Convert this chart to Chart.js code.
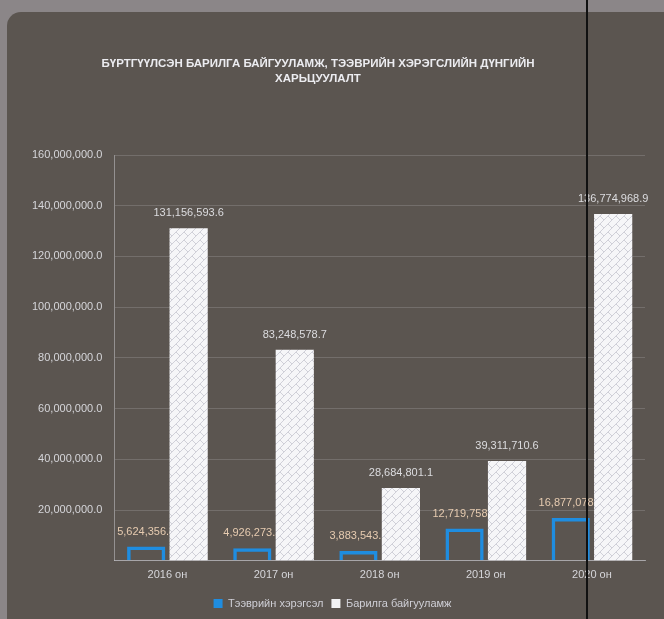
<!DOCTYPE html>
<html>
<head>
<meta charset="utf-8">
<script src="https://cdn.jsdelivr.net/npm/chart.js@4"></script>
<style>
    html, body { margin: 0; padding: 0; }
    body { width: 664px; height: 619px; background: #8b8688; position: relative; overflow: hidden; }
    .card { position: absolute; left: 7px; top: 12px; width: 700px; height: 650px; background: #5b5550; border-top-left-radius: 14px; }
    .wrap { position: absolute; left: 0; top: 0; width: 664px; height: 619px; }
    .crease { position: absolute; left: 586px; top: 0; width: 2px; height: 619px; background: #111; }
</style>
</head>
<body>
<div class="card"></div>
<div class="wrap"><canvas id="myBarChart" width="664" height="619"></canvas></div>
<div class="crease"></div>
<script>
const years = ['2016 он', '2017 он', '2018 он', '2019 он', '2020 он'];
const vehicles = [5624356.8, 4926273.5, 3883543.2, 12719758.1, 16877078.4];
const buildings = [131156593.6, 83248578.7, 28684801.1, 39311710.6, 136774968.9];
const seriesNames = ['Тээврийн хэрэгсэл', 'Барилга байгууламж'];
const titleLines = ['БҮРТГҮҮЛСЭН БАРИЛГА БАЙГУУЛАМЖ, ТЭЭВРИЙН ХЭРЭГСЛИЙН ДҮНГИЙН', 'ХАРЬЦУУЛАЛТ'];

const FONT = '"Liberation Sans", Arial, sans-serif';

const fmt = (v) => v.toLocaleString('en-US', { minimumFractionDigits: 1, maximumFractionDigits: 1 });

// white bars with a light crosshatch
const makeHatch = () => {
    const c = document.createElement('canvas');
    c.width = 8; c.height = 8;
    const g = c.getContext('2d');
    g.fillStyle = '#f6f6f8';
    g.fillRect(0, 0, 8, 8);
    g.strokeStyle = '#d0d0d8';
    g.lineWidth = 1;
    g.beginPath();
    g.moveTo(0, 8); g.lineTo(8, 0);
    g.moveTo(0, 0); g.lineTo(4, 4);
    g.stroke();
    return g.createPattern(c, 'repeat');
};

const valueLabels = {
    id: 'valueLabels',
    drawSet(chart, idx, color) {
        const ctx = chart.ctx;
        const meta = chart.getDatasetMeta(idx);
        const data = chart.data.datasets[idx].data;
        ctx.save();
        ctx.font = '11px ' + FONT;
        ctx.fillStyle = color;
        ctx.textAlign = 'center';
        ctx.textBaseline = 'middle';
        meta.data.forEach((bar, i) => {
            ctx.fillText(fmt(data[i]), bar.x, bar.y - 15);
        });
        ctx.restore();
    },
    // vehicle labels go under the white bars, like the original
    beforeDatasetsDraw(chart) {
        this.drawSet(chart, 0, '#e6cbb0');
    },
    afterDatasetsDraw(chart) {
        this.drawSet(chart, 1, '#dcdcdf');
    },
    afterDraw(chart) {
        const ctx = chart.ctx;
        ctx.save();
        ctx.font = 'bold 11.5px ' + FONT;
        ctx.fillStyle = '#ececf0';
        ctx.textAlign = 'center';
        ctx.textBaseline = 'middle';
        ctx.fillText(titleLines[0], 318, 64);
        ctx.fillText(titleLines[1], 318, 79);
        ctx.restore();
    }
};

const ctx = document.getElementById('myBarChart').getContext('2d');
new Chart(ctx, {
    type: 'bar',
    data: {
        labels: years,
        datasets: [{
            label: seriesNames[0],
            data: vehicles,
            backgroundColor: 'rgba(0,0,0,0)',
            borderColor: '#1f8de0',
            borderWidth: 3.5,
            borderSkipped: 'bottom'
        }, {
            label: seriesNames[1],
            data: buildings,
            backgroundColor: makeHatch(),
            borderWidth: 0
        }]
    },
    options: {
        responsive: false,
        animation: false,
        layout: { padding: { top: 155, left: 20, right: 19, bottom: 0 } },
        datasets: { bar: { categoryPercentage: 0.8, barPercentage: 0.9 } },
        scales: {
            x: {
                grid: { display: false, drawTicks: false },
                border: { color: 'rgba(205,205,210,0.6)' },
                ticks: { color: '#d6d6da', font: { family: FONT, size: 11 }, padding: 8 }
            },
            y: {
                min: 0,
                max: 160000000,
                grid: { color: 'rgba(200,200,205,0.22)', drawTicks: false },
                border: { color: 'rgba(205,205,210,0.5)' },
                ticks: {
                    stepSize: 20000000,
                    color: '#d6d6da',
                    font: { family: FONT, size: 11 },
                    padding: 12,
                    callback: (v) => v === 0 ? '' : fmt(v)
                }
            }
        },
        plugins: {
            title: { display: false },
            tooltip: { enabled: false },
            legend: {
                position: 'bottom',
                labels: {
                    color: '#cfcfd6',
                    font: { family: FONT, size: 11 },
                    boxWidth: 9,
                    boxHeight: 9,
                    padding: 8,
                    generateLabels: (chart) => [
                        { text: seriesNames[0], fillStyle: '#1f8de0', strokeStyle: '#1f8de0', lineWidth: 0, fontColor: '#cfcfd6', datasetIndex: 0 },
                        { text: seriesNames[1], fillStyle: '#f2f2f4', strokeStyle: '#f2f2f4', lineWidth: 0, fontColor: '#cfcfd6', datasetIndex: 1 }
                    ]
                }
            }
        }
    },
    plugins: [valueLabels]
});
</script>
</body>
</html>
